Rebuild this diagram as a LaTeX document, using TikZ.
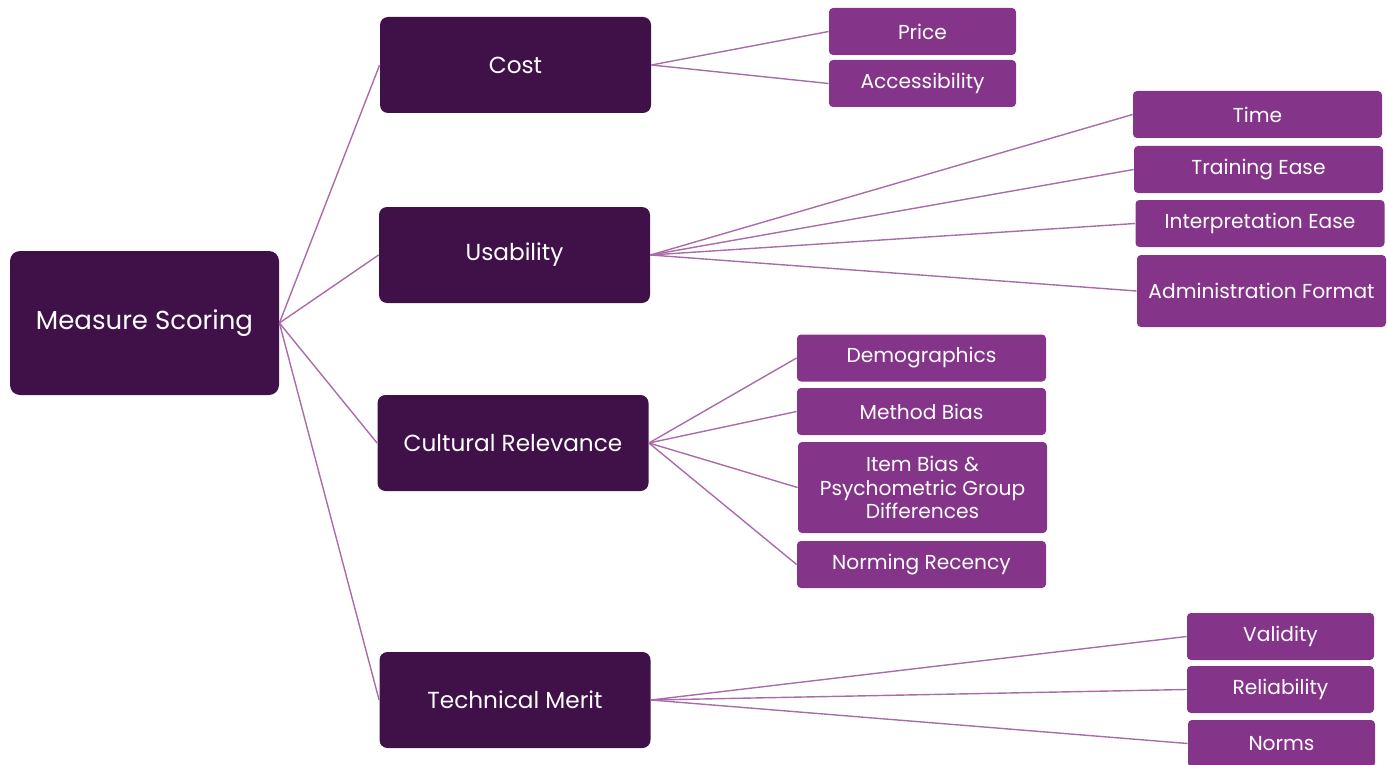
\documentclass[tikz,border=0pt]{standalone}
\usepackage{fontspec}
\setmainfont{Poppins}
\usetikzlibrary{positioning}
\definecolor{darkplum}{HTML}{3F1148}
\definecolor{lightplum}{HTML}{843589}
\definecolor{linkplum}{HTML}{A96CA9}

\begin{document}
\begin{tikzpicture}[x=0.5pt, y=-0.5pt,
    rootbox/.style={rounded corners=5pt, fill=darkplum, text=white, inner sep=0pt, minimum width=134.5pt, minimum height=72pt, font=\fontsize{13}{15}\selectfont},
    mainbox/.style={rounded corners=4pt, fill=darkplum, text=white, inner sep=0pt, minimum width=135.5pt, minimum height=48pt, font=\fontsize{11.6}{14}\selectfont},
    leafbox/.style={rounded corners=2pt, fill=lightplum, text=white, inner sep=0pt, minimum height=23.5pt, align=center, font=\fontsize{10.1}{11.6}\selectfont},
    narrow/.style={leafbox, minimum width=93.5pt},
    wide/.style={leafbox, minimum width=124.5pt},
    link/.style={draw=linkplum, line width=0.7pt}]

    \useasboundingbox (0,0) rectangle (1387,765);

    % Root and branches
    \node[rootbox] (root) at (144.5,323) {Measure Scoring};
    \node[mainbox] (cost) at (515.5,65) {Cost};
    \node[mainbox] (usab) at (514.5,255) {Usability};
    \node[mainbox] (cult) at (513,443) {Cultural Relevance};
    \node[mainbox] (tech) at (515,700) {Technical Merit};

    % Leaves
    \node[narrow] (price) at (922.5,31.5) {Price};
    \node[narrow] (access) at (922.5,83.5) {Accessibility};

    \node[wide] (time) at (1257.5,114.5) {Time};
    \node[wide] (train) at (1258.5,169.5) {Training Ease};
    \node[wide] (interp) at (1260,223.5) {Interpretation Ease};
    \node[wide, minimum height=36pt] (admin) at (1261.5,291) {Administration Format};

    \node[wide] (demo) at (921.5,358) {Demographics};
    \node[wide] (method) at (921.5,411.5) {Method Bias};
    \node[wide, minimum height=45.5pt] (item) at (922.5,487.5) {Item Bias \&\\Psychometric Group\\Differences};
    \node[wide] (norming) at (921.5,564.5) {Norming Recency};

    \node[narrow] (valid) at (1280.5,636.5) {Validity};
    \node[narrow] (reliab) at (1280.5,689.5) {Reliability};
    \node[narrow] (norms) at (1281.5,743.5) {Norms};

    % Connectors
    \path[link]
        (root.east) edge (cost.west)
        (root.east) edge (usab.west)
        (root.east) edge (cult.west)
        (root.east) edge (tech.west)

        (cost.east) edge (price.west)
        (cost.east) edge (access.west)

        (usab.east) edge (time.west)
        (usab.east) edge (train.west)
        (usab.east) edge (interp.west)
        (usab.east) edge (admin.west)

        (cult.east) edge (demo.west)
        (cult.east) edge (method.west)
        (cult.east) edge (item.west)
        (cult.east) edge (norming.west)

        (tech.east) edge (valid.west)
        (tech.east) edge (reliab.west)
        (tech.east) edge (norms.west);

\end{tikzpicture}
\end{document}
